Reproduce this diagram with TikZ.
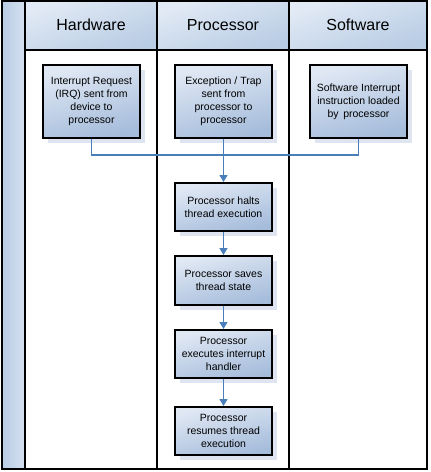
\documentclass[tikz,border=0pt]{standalone}
\usepackage{fontspec}
\setmainfont{Liberation Sans}
\usetikzlibrary{arrows.meta, positioning, shadows}

\definecolor{laneblue}{RGB}{184,204,228}
\definecolor{lanelight}{RGB}{226,234,245}
\definecolor{boxblue}{RGB}{165,188,219}
\definecolor{boxlight}{RGB}{224,232,244}
\definecolor{shadeblue}{RGB}{222,228,240}
\definecolor{flowblue}{RGB}{74,126,187}

\tikzset{
  lanehead/.style={draw=black, line width=2pt, top color=lanelight, bottom color=laneblue, shading angle=20},
  stepbox/.style={draw=black, line width=2pt, minimum width=97pt, align=center,
    top color=boxlight, bottom color=boxblue, shading angle=15, inner sep=2pt,
    font=\fontsize{10.5}{13}\selectfont,
    general shadow={fill=shadeblue, shadow xshift=5pt, shadow yshift=-5pt}},
  flow/.style={draw=flowblue, line width=1.2pt},
  lanetitle/.style={font=\fontsize{16}{18}\selectfont}
}

\begin{document}
\begin{tikzpicture}[x=1pt, y=-1pt]
\useasboundingbox (0,0) rectangle (431,472);

% lanes
\shade[left color=laneblue, right color=lanelight!70!laneblue] (2,1) rectangle (25,469);
\draw[lanehead] (25,1) rectangle (157,50);
\draw[lanehead] (157,1) rectangle (289,50);
\draw[lanehead] (289,1) rectangle (427,50);
\draw[line width=2pt] (2,1) rectangle (427,469);
\draw[line width=2pt] (25,1) -- (25,469);
\draw[line width=2pt] (157,50) -- (157,469);
\draw[line width=2pt] (289,50) -- (289,469);

\node[lanetitle] (hwlane) at (91,25) {Hardware};
\node[lanetitle] (proclane) at (223,25) {Processor};
\node[lanetitle] (swlane) at (358,25) {Software};

% sources
\node[stepbox, minimum height=73pt] (irq) at (91.5,101.5) {Interrupt Request\\(IRQ) sent from\\device to\\processor};
\node[stepbox, minimum height=73pt] (trap) at (223.5,101.5) {Exception / Trap\\sent from\\processor to\\processor};
\node[stepbox, minimum height=73pt] (swi) at (358.5,101.5) {Software Interrupt\\instruction loaded\\by\, processor};

% processor steps
\node[stepbox, minimum height=48pt] (halt) at (223.5,207) {Processor halts\\thread execution};
\node[stepbox, minimum height=49pt, below=23pt of halt] (save) {Processor saves\\thread state};
\node[stepbox, minimum height=48pt, below=23pt of save] (exec) {Processor\\executes interrupt\\handler};
\node[stepbox, minimum height=48pt, below=27pt of exec] (resume) {Processor\\resumes thread\\execution};

\coordinate (join) at (223.5,155);
\draw[flow] (irq.south) |- (join) -| (swi.south);
\draw[flow, -{Triangle[length=7pt, width=8pt]}] (trap.south) -- (halt.north);
\draw[flow, -{Triangle[length=7pt, width=8pt]}] (halt) -- (save);
\draw[flow, -{Triangle[length=7pt, width=8pt]}] (save) -- (exec);
\draw[flow, -{Triangle[length=7pt, width=8pt]}] (exec) -- (resume);
\end{tikzpicture}
\end{document}
